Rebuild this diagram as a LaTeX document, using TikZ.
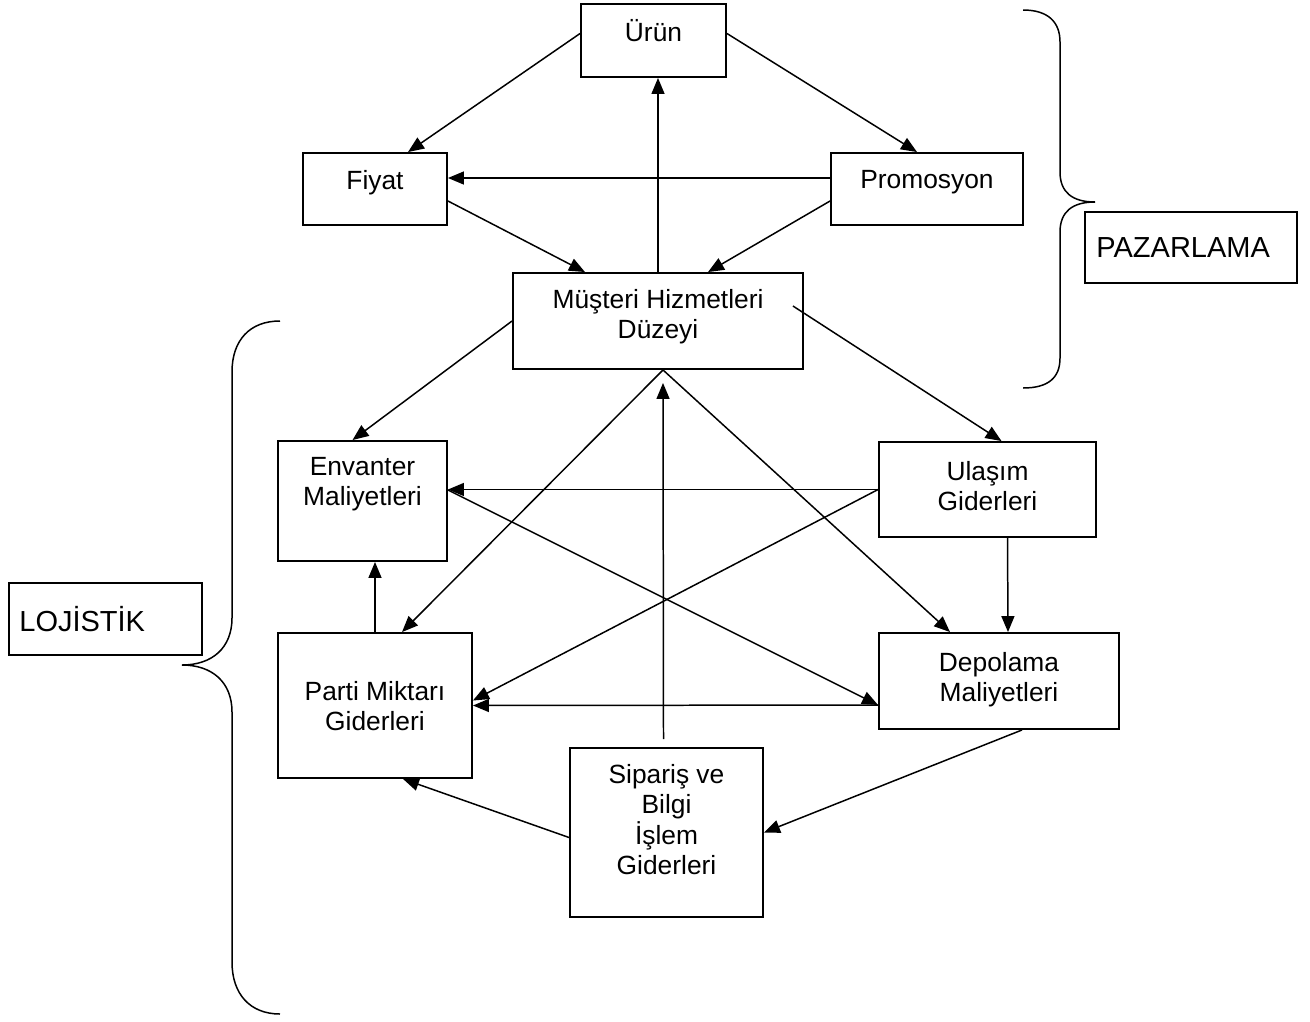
\documentclass[tikz,border=0pt]{standalone}
\usepackage{fontspec}
\setmainfont{Liberation Sans}
\usetikzlibrary{arrows.meta,calc,positioning}
\tikzstyle{box}=[draw,line width=1.1pt,inner sep=0pt]
\tikzstyle{txt}=[align=center,inner sep=0pt,font=\fontsize{15}{17.3}\selectfont]
\tikzstyle{tagtxt}=[inner sep=0pt,font=\fontsize{16.5}{19}\selectfont]
\tikzstyle{conn}=[line width=0.85pt,-{Triangle[length=0.32cm,width=0.26cm]}]

\begin{document}
\begin{tikzpicture}[x=0.02cm,y=-0.02cm]
        \useasboundingbox (0,0) rectangle (1310,1021);

        \node[box,minimum width=2.9cm,minimum height=1.46cm,
          label={[txt,below=0.32cm]north:Ürün}] at (653.5,40.5) (urun) {};
        \node[box,minimum width=2.88cm,minimum height=1.44cm,
          label={[txt,below=0.36cm]north:Fiyat}] at (375,189) (fiyat) {};
        \node[box,minimum width=3.84cm,minimum height=1.44cm,
          label={[txt,below=0.36cm]north:Promosyon}] at (927,189) (promo) {};
        \node[box,minimum width=5.8cm,minimum height=1.92cm,
          label={[txt,below=0.34cm]north:Müşteri Hizmetleri\\Düzeyi}] at (658,321) (musteri) {};

        \node[box,minimum width=4.24cm,minimum height=1.42cm,
          label={[tagtxt,right=0.24cm]west:PAZARLAMA}] at (1191,247.5) (pazar) {};
        \node[box,minimum width=3.86cm,minimum height=1.44cm,
          label={[tagtxt,right=0.22cm]west:LOJİSTİK}] at (105.5,619) (lojistik) {};

        \node[box,minimum width=3.38cm,minimum height=2.4cm,
          label={[txt,below=0.34cm]north:Envanter\\Maliyetleri}] at (362.5,501) (env) {};
        \node[box,minimum width=4.34cm,minimum height=1.9cm,
          label={[txt,below=0.4cm]north:Ulaşım\\Giderleri}] at (987.5,489.5) (ulasim) {};
        \node[box,minimum width=3.88cm,minimum height=2.9cm,
          label={[txt,below=0.98cm]north:Parti Miktarı\\Giderleri}] at (375,705.5) (parti) {};
        \node[box,minimum width=4.8cm,minimum height=1.92cm,
          label={[txt,below=0.4cm]north:Depolama\\Maliyetleri}] at (999,681) (depo) {};
        \node[box,minimum width=3.86cm,minimum height=3.38cm,
          label={[txt,below=0.34cm]north:Sipariş ve\\Bilgi\\İşlem\\Giderleri}] at (666.5,832.5) (siparis) {};

        % pazarlama
        \draw[conn] ($(urun.west)+(0,-7)$) -- ($(fiyat.north)+(33,0)$);
        \draw[conn] ($(urun.east)+(0,-7)$) -- ($(promo.north)+(-10,0)$);
        \draw[conn] ($(promo.west)+(0,-11)$) -- ($(fiyat.east)+(0,-11)$);
        \draw[conn] ($(fiyat.east)+(0,12)$) -- ($(musteri.north)+(-73,0)$);
        \draw[conn] ($(promo.west)+(0,12)$) -- ($(musteri.north)+(50,0)$);
        \draw[conn] (musteri.north) -- (musteri.north |- urun.south);

        % lojistik
        \draw[conn] (musteri.west) -- ($(env.north)+(-10,0)$);
        \draw[conn] ($(musteri.east)+(-11,-15)$) -- ($(ulasim.north)+(14,0)$);
        \draw[conn] ($(musteri.south)+(5,0)$) -- ($(parti.north)+(27,0)$);
        \draw[conn] ($(musteri.south)+(5,0)$) -- ($(depo.north)+(-49,0)$);
        \draw[conn] ($(siparis.north)+(-3,-8)$) -- ($(musteri.south)+(5,13)$);
        \draw[conn] (ulasim.west) -- (ulasim.west -| env.east);
        \draw[conn] (ulasim.west) -- ($(parti.east)+(0,-5)$);
        \draw[conn] ($(ulasim.south)+(20,0)$) -- ($(depo.north)+(9,0)$);
        \draw[conn] ($(env.east)+(0,-11)$) -- ($(depo.west)+(0,24)$);
        \draw[conn] ($(depo.west)+(0,24)$) -- (parti.east);
        \draw[conn] (parti.north) -- (parti.north |- env.south);
        \draw[conn] ($(siparis.west)+(0,5)$) -- ($(parti.south)+(28,0)$);
        \draw[conn] ($(depo.south)+(23,0)$) -- (siparis.east);

        % braces
        \draw[line width=0.85pt] (1023,10) .. controls (1048,10) and (1060,22) .. (1060,42)
          -- (1060,172) .. controls (1060,192) and (1072,202) .. (1095,202)
          .. controls (1072,202) and (1060,212) .. (1060,232)
          -- (1060,358) .. controls (1060,378) and (1048,388) .. (1023,388);
        \draw[line width=0.85pt] (280,321) .. controls (250,321) and (232,340) .. (232,372)
          -- (232,618) .. controls (232,648) and (212,665) .. (182,665)
          .. controls (212,665) and (232,682) .. (232,712)
          -- (232,962) .. controls (232,994) and (250,1014) .. (280,1014);
      \end{tikzpicture}
\end{document}
